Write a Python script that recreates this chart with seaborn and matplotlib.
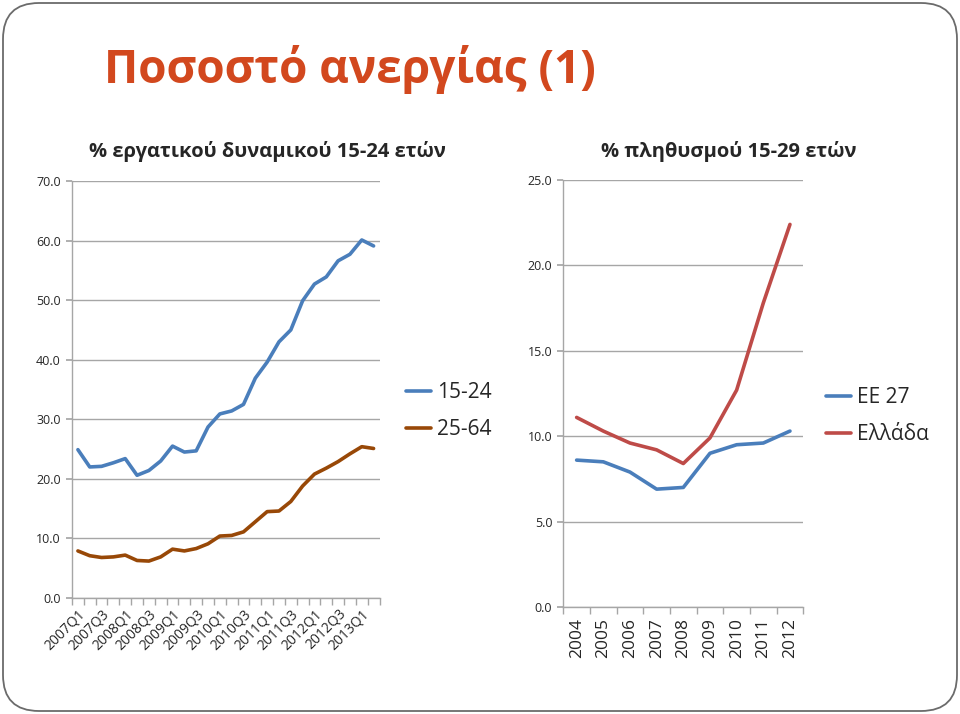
import numpy as np
import pandas as pd
import matplotlib
matplotlib.use("Agg")
import matplotlib.pyplot as plt
from matplotlib.patches import FancyBboxPatch
from matplotlib.ticker import MultipleLocator, FixedLocator, FormatStrFormatter
import seaborn as sns

# ---------------- data ----------------
quarters = [f"{y}Q{q}" for y in range(2007, 2014) for q in range(1, 5)][:26]
youth_15_24 = [24.9, 22.0, 22.1, 22.7, 23.4, 20.6, 21.4, 23.0, 25.5, 24.5, 24.7,
               28.7, 30.9, 31.4, 32.5, 36.9, 39.6, 43.0, 45.0, 49.9, 52.7, 53.9,
               56.6, 57.7, 60.1, 59.1]
adult_25_64 = [7.9, 7.1, 6.8, 6.9, 7.2, 6.3, 6.2, 6.9, 8.2, 7.9, 8.3, 9.1, 10.4,
               10.5, 11.1, 12.8, 14.5, 14.6, 16.2, 18.8, 20.8, 21.8, 22.9, 24.2,
               25.4, 25.1]
years = ["2004", "2005", "2006", "2007", "2008", "2009", "2010", "2011", "2012"]
eu27 = [8.6, 8.5, 7.9, 6.9, 7.0, 9.0, 9.5, 9.6, 10.3]
greece = [11.1, 10.3, 9.6, 9.2, 8.4, 9.9, 12.7, 17.8, 22.4]

left_series = ["15-24", "25-64"]
right_series = ["ΕΕ 27", "Ελλάδα"]

df_left = pd.DataFrame({
    "pos": list(range(len(quarters))) * 2,
    "value": youth_15_24 + adult_25_64,
    "series": [left_series[0]] * len(quarters) + [left_series[1]] * len(quarters),
})
df_right = pd.DataFrame({
    "pos": list(range(len(years))) * 2,
    "value": eu27 + greece,
    "series": [right_series[0]] * len(years) + [right_series[1]] * len(years),
})

# ---------------- style ----------------
sns.set_theme(style="white")
plt.rcParams["font.family"] = ["Open Sans", "DejaVu Sans"]

W, H = 960, 714
fig = plt.figure(figsize=(W / 100, H / 100), dpi=100)
fig.patch.set_facecolor("white")

# slide frame
bg = fig.add_axes([0, 0, 1, 1], zorder=-5)
bg.set_xlim(0, W)
bg.set_ylim(H, 0)
bg.axis("off")
bg.add_patch(FancyBboxPatch((3, 3), W - 6, H - 6,
                            boxstyle="round,pad=0,rounding_size=36",
                            fill=False, edgecolor="#6b6b6b", linewidth=1.3))

fig.text(104 / W, 1 - 70 / H, "Ποσοστό ανεργίας (1)", color="#D2481E",
         fontsize=33, fontweight="bold", ha="left", va="center")

grid_c = "#a6a6a6"
blue = "#4A7EBB"
brown = "#984807"
red = "#BE4B48"


def style_axis(ax):
    ax.set_facecolor("none")
    for s in ["top", "right"]:
        ax.spines[s].set_visible(False)
    ax.spines["left"].set_color(grid_c)
    ax.spines["bottom"].set_color(grid_c)
    ax.spines["left"].set_linewidth(1)
    ax.spines["bottom"].set_linewidth(1)
    ax.yaxis.grid(True, color=grid_c, linewidth=1)
    ax.xaxis.grid(False)
    ax.set_axisbelow(True)
    ax.yaxis.set_major_formatter(FormatStrFormatter("%.1f"))
    ax.tick_params(axis="y", which="major", length=4, color=grid_c,
                   labelsize=9, pad=4, left=True)
    ax.set_xlabel("")
    ax.set_ylabel("")


# ---------------- left chart ----------------
axL = fig.add_axes([72 / W, 1 - 598 / H, 307.5 / W, 417 / H])
sns.lineplot(data=df_left, x="pos", y="value", hue="series",
             palette=[blue, brown], linewidth=2.6, ax=axL, legend=False)
axL.set_xlim(-0.5, len(quarters) - 0.5)
axL.set_ylim(0, 70)
axL.yaxis.set_major_locator(MultipleLocator(10))
style_axis(axL)
axL.xaxis.set_major_locator(FixedLocator(list(range(0, len(quarters), 2))))
axL.set_xticklabels(quarters[::2], rotation=45, ha="right",
                    rotation_mode="anchor", fontsize=10)
axL.xaxis.set_minor_locator(FixedLocator(np.arange(-0.5, len(quarters), 1)))
axL.tick_params(axis="x", which="major", length=0, pad=6)
axL.tick_params(axis="x", which="minor", length=5, color=grid_c, bottom=True)
fig.text(267 / W, 1 - 151 / H, "% εργατικού δυναμικού 15-24 ετών",
         fontsize=14.5, fontweight="bold", ha="center", va="center")

handlesL = [plt.Line2D([], [], color=c, linewidth=2.6) for c in [blue, brown]]
fig.legend(handlesL, left_series, loc="center left",
           bbox_to_anchor=(387 / W, 1 - 411 / H), frameon=False, fontsize=15,
           handlelength=1.2, handletextpad=0.3, labelspacing=0.75)

# ---------------- right chart ----------------
axR = fig.add_axes([563.3 / W, 1 - 607 / H, 240 / W, 427 / H])
sns.lineplot(data=df_right, x="pos", y="value", hue="series",
             palette=[blue, red], linewidth=2.6, ax=axR, legend=False)
axR.set_xlim(-0.5, len(years) - 0.5)
axR.set_ylim(0, 25)
axR.yaxis.set_major_locator(MultipleLocator(5))
style_axis(axR)
axR.xaxis.set_major_locator(FixedLocator(list(range(len(years)))))
axR.set_xticklabels(years, rotation=90, fontsize=12.5)
axR.xaxis.set_minor_locator(FixedLocator(np.arange(-0.5, len(years), 1)))
axR.tick_params(axis="x", which="major", length=0, pad=8)
axR.tick_params(axis="x", which="minor", length=5, color=grid_c, bottom=True)
fig.text(729 / W, 1 - 151 / H, "% πληθυσμού 15-29 ετών",
         fontsize=14.5, fontweight="bold", ha="center", va="center")

handlesR = [plt.Line2D([], [], color=c, linewidth=2.6) for c in [blue, red]]
fig.legend(handlesR, right_series, loc="center left",
           bbox_to_anchor=(807 / W, 1 - 416 / H), frameon=False, fontsize=15,
           handlelength=1.2, handletextpad=0.3, labelspacing=0.75)

fig.savefig("out.png", dpi=100, facecolor="white")
